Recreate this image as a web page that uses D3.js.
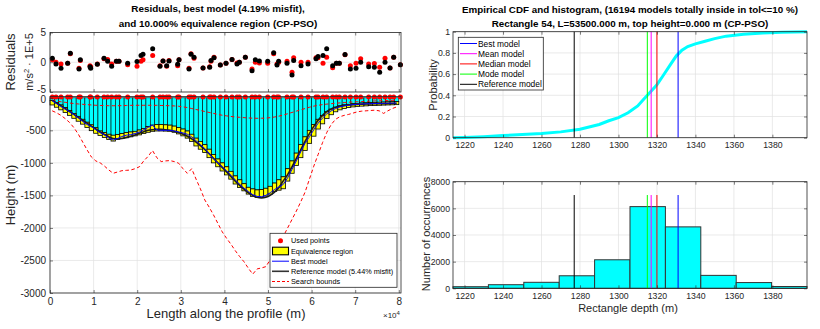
<!DOCTYPE html>
<html><head><meta charset="utf-8">
<script src="https://cdn.jsdelivr.net/npm/d3@7"></script>
<style>
body{margin:0;background:#fff}
text{font-family:"Liberation Sans",Arial,Helvetica,sans-serif}
</style></head>
<body><svg id="c" width="820" height="329"></svg>
<script>
// ---------------- DATA ----------------
const rectWidth = 1000;            // m
const rectCenters = d3.range(500, 80000, 1000);
const eqTop = [40,75,110,150,195,240,285,330,375,415,460,510,535,560,575,565,550,535,525,515,495,470,440,420,412,410,415,420,435,455,480,510,560,620,670,720,790,870,940,1000,1060,1130,1200,1260,1320,1375,1400,1415,1410,1390,1360,1310,1260,1214,1090,970,850,720,600,500,410,330,270,215,175,145,125,110,100,90,85,80,76,72,70,68,65,62,60,58];
const eqBot = [110,145,185,225,270,315,360,405,455,505,545,580,610,640,665,640,625,615,600,585,570,550,530,515,510,510,512,515,530,555,585,620,670,740,790,840,920,1000,1060,1125,1185,1250,1325,1380,1430,1480,1515,1530,1530,1510,1480,1440,1420,1398,1280,1160,1040,920,810,700,590,480,400,320,260,215,185,165,150,140,132,128,124,120,118,115,112,110,108,105];
const bestDepth = [45,90,135,175,215,260,310,365,410,445,490,535,570,620,650,625,595,575,565,550,525,490,455,420,495,500,500,500,510,525,540,560,600,660,720,780,860,940,1000,1060,1120,1190,1260,1330,1390,1440,1490,1515,1520,1500,1460,1410,1370,1331,1230,1100,970,830,700,600,490,390,310,245,200,165,140,125,115,105,100,95,92,90,88,86,84,82,80,78];
const refDepth = [40,80,120,165,210,255,300,345,390,435,480,525,565,600,625,630,625,610,590,570,545,520,500,490,485,485,490,500,515,535,560,590,630,680,735,795,860,930,1000,1070,1140,1210,1280,1345,1405,1460,1500,1530,1540,1530,1500,1450,1380,1277,1180,1060,930,800,670,550,440,345,270,210,170,145,128,117,110,105,101,98,96,94,92,91,90,89,88,88];
const boundTop = [40,50,60,70,80,88,95,100,105,110,115,118,120,122,122,122,120,118,116,115,115,115,115,115,116,118,120,122,125,130,140,150,165,180,195,210,225,240,255,268,278,287,294,300,305,310,313,315,314,312,305,295,282,265,245,225,205,185,165,145,128,115,105,97,90,84,78,73,68,64,60,57,54,51,48,46,44,42,40,38];
const boundBot = [200,230,270,320,380,460,560,680,800,910,970,1000,1050,1110,1160,1140,1120,1115,1110,1090,1060,970,900,810,920,980,970,965,980,1005,1090,1160,1090,1250,1400,1570,1680,1800,1930,2060,2160,2250,2350,2440,2520,2620,2710,2630,2615,2595,2490,2350,2220,2130,2000,1870,1740,1600,1450,1250,1050,870,690,530,410,330,290,270,255,235,215,205,200,195,190,200,240,200,165,140];

const usedX = [535,1376,2523,4052,4664,6651,6957,9174,9327,10856,12385,13226,14144,15214,15826,17813,19954,20872,21330,23548,25229,25917,26758,27294,29281,29587,31881,32339,33028,35092,36621,36927,37615,39067,40367,41743,42890,43425,44801,46330,47095,48012,49924,51300,52064,52446,54358,55505,55887,57569,59174,61009,61468,62615,63456,64832,65673,66361,67661,68884,70183,71254,73089,74388,75612,76835,77982,78823,80352];
const resBest = [0.40,0,-0.28,-0.17,1.42,-1.02,0.28,-0.57,-0.74,-0.28,0.57,0.45,-0.28,0.17,0.17,-0.40,-0.68,0.17,0.40,1.14,-0.57,0.23,-0.68,0.28,-0.57,0.40,-1.02,1.42,0.68,-0.97,-0.74,0.17,0.85,-0.45,-0.17,0.45,-0.11,0,0.85,-1.14,0,-0.11,-0.17,1.42,-0.28,0,0.17,-1.70,0.74,0,0,0.74,0.74,-0.17,0.85,-0.91,-0.17,-0.17,1.25,-0.57,-0.17,0.57,-0.28,-0.23,-0.85,0.68,-0.97,0.85,-0.40];
const resRef = [0.68,-0.28,-1.02,-0.17,1.53,-1.14,0.40,-0.74,-1.0,-0.34,0.68,0.17,-0.68,0.17,0.17,-0.17,0.11,1.14,1.36,2.27,-0.68,0.23,-0.57,0.23,-0.34,0.40,-1.14,1.36,0.85,-0.97,-0.85,0.28,0.74,-0.45,-0.17,0.45,-0.28,0,0.85,-1.42,0.40,0.23,0.17,1.59,-0.45,0.17,-0.17,-2.16,0.28,-0.57,-0.28,0.57,0.97,1.14,2.27,-0.57,-0.17,-0.17,1.31,-1.14,-1.02,0,-0.74,-0.85,-1.70,0,-0.97,0.85,-0.40];

const mainXTicks = [0,10000,20000,30000,40000,50000,60000,70000,80000];
const mainYTicks = [-3000,-2500,-2000,-1500,-1000,-500,0];
const resYTicks = [-5,0,5];

const cdfDepth = [1214,1220,1230,1240,1250,1260,1270,1280,1290,1295,1300,1305,1310,1313,1316,1320,1323,1327,1330,1333,1336,1340,1345,1350,1356,1365,1375,1385,1398];
const cdfProb  = [0,0.003,0.01,0.02,0.03,0.04,0.055,0.08,0.125,0.16,0.19,0.235,0.3,0.36,0.42,0.5,0.58,0.69,0.77,0.825,0.86,0.885,0.91,0.935,0.958,0.975,0.988,0.995,1];
const histEdges = [1214,1232.4,1250.8,1269.2,1287.6,1306,1324.4,1342.8,1361.2,1379.6,1398];
const histCounts = [120,270,450,940,2140,6130,4610,970,430,134];
const modelNames = ["Best model","Mean model","Median model","Mode model","Reference model"];
const modelDepths = [1331,1317,1320,1315,1277];
const depthTicks = [1220,1240,1260,1280,1300,1320,1340,1360,1380];
const probTicks = [0,0.2,0.4,0.6,0.8,1];
const countTicks = [0,2000,4000,6000,8000];
const histLineTop = 7000;

// ---------------- STYLE ----------------
const modelColors = ["#0000ff","#ff00ff","#ff0000","#00ff00","#000000"];
const axisCol = "#262626", gridCol = "#e1e1e1";

const svg = d3.select("#c");

function styleAxis(g, fs){
  g.selectAll(".domain").remove();
  g.selectAll("line").attr("stroke",axisCol).attr("stroke-width",0.6);
  g.selectAll("text").attr("fill",axisCol).style("font-size",fs||"10px").attr("font-family","Liberation Sans, Arial, sans-serif");
  return g;
}
function box(x0,y0,x1,y1){
  svg.append("rect").attr("x",x0).attr("y",y0).attr("width",x1-x0).attr("height",y1-y0)
    .attr("fill","none").attr("stroke",axisCol).attr("stroke-width",0.8);
}
const fmt = d => String(d);

// ---------------- LEFT PANELS ----------------
const L = {x0:50, x1:401};
const xL = d3.scaleLinear().domain([0,80500]).range([L.x0,L.x1]);
const yRes = d3.scaleLinear().domain([-5,5]).range([92,32.5]);
const yMain = d3.scaleLinear().domain([-3000,20]).range([293,96.5]);

// residual grid
const gRes = svg.append("g");
gRes.selectAll("line.v").data(mainXTicks).join("line")
  .attr("x1",d=>xL(d)).attr("x2",d=>xL(d)).attr("y1",yRes(5)).attr("y2",yRes(-5)).attr("stroke",gridCol).attr("stroke-width",0.7);
gRes.selectAll("line.h").data(resYTicks).join("line")
  .attr("x1",L.x0).attr("x2",L.x1).attr("y1",d=>yRes(d)).attr("y2",d=>yRes(d)).attr("stroke",gridCol).attr("stroke-width",0.7);
// main grid
const gMain = svg.append("g");
gMain.selectAll("line.v").data(mainXTicks).join("line")
  .attr("x1",d=>xL(d)).attr("x2",d=>xL(d)).attr("y1",yMain(20)).attr("y2",yMain(-3000)).attr("stroke",gridCol).attr("stroke-width",0.7);
gMain.selectAll("line.h").data(mainYTicks).join("line")
  .attr("x1",L.x0).attr("x2",L.x1).attr("y1",d=>yMain(d)).attr("y2",d=>yMain(d)).attr("stroke",gridCol).attr("stroke-width",0.7);

// residual dots
svg.append("g").selectAll("circle").data(usedX).join("circle")
  .attr("cx",d=>xL(d)).attr("cy",(d,i)=>yRes(resBest[i])).attr("r",2.5).attr("fill","#ff0000");
svg.append("g").selectAll("circle").data(usedX).join("circle")
  .attr("cx",d=>xL(d)).attr("cy",(d,i)=>yRes(resRef[i])).attr("r",2.5).attr("fill","#000000");

// bars
const gBars = svg.append("g");
rectCenters.forEach((c,i)=>{
  const xa = xL(c-rectWidth/2), xb = xL(c+rectWidth/2);
  gBars.append("rect").attr("x",xa).attr("width",xb-xa)
    .attr("y",yMain(0)).attr("height",yMain(-eqTop[i])-yMain(0))
    .attr("fill","#00ffff").attr("stroke","#000").attr("stroke-width",0.6);
});
rectCenters.forEach((c,i)=>{
  const xa = xL(c-rectWidth/2), xb = xL(c+rectWidth/2);
  gBars.append("rect").attr("x",xa).attr("width",xb-xa)
    .attr("y",yMain(-eqTop[i])).attr("height",yMain(-eqBot[i])-yMain(-eqTop[i]))
    .attr("fill","#ffff00").attr("stroke","#000").attr("stroke-width",0.8);
});

// search bounds
const lineDepth = arr => d3.line().x((d,i)=>xL(rectCenters[i])).y(d=>yMain(-d))(arr);
[boundTop,boundBot].forEach(b=>{
  svg.append("path").attr("d",lineDepth(b)).attr("fill","none").attr("stroke","#ff0000")
    .attr("stroke-width",1).attr("stroke-dasharray","3.5,2.5");
});
// reference model
svg.append("path").attr("d",d3.line().curve(d3.curveMonotoneX).x((d,i)=>xL(rectCenters[i])).y(d=>yMain(-d))(refDepth))
  .attr("fill","none").attr("stroke","#1a1a1a").attr("stroke-width",1.6);
// best model
svg.append("path").attr("d",lineDepth(bestDepth)).attr("fill","none").attr("stroke","#0000ff").attr("stroke-width",1);

// used points at surface
svg.append("g").selectAll("circle").data(usedX).join("circle")
  .attr("cx",d=>xL(d)).attr("cy",yMain(0)-0.8).attr("r",2.5).attr("fill","#ff0000");

// axes left
const axRes = styleAxis(svg.append("g").attr("transform",`translate(${L.x0},0)`)
  .call(d3.axisLeft(yRes).tickValues(resYTicks).tickFormat(fmt).tickSize(-3).tickPadding(4)));
axRes.selectAll(".tick").filter(d=>d===-5).select("text").attr("y",-2.5);
styleAxis(svg.append("g").attr("transform",`translate(0,${yRes(-5)})`)
  .call(d3.axisBottom(xL).tickValues(mainXTicks).tickFormat("").tickSize(-3)));
styleAxis(svg.append("g").attr("transform",`translate(0,${yRes(5)})`)
  .call(d3.axisTop(xL).tickValues(mainXTicks).tickFormat("").tickSize(-3)));
box(L.x0,yRes(5),L.x1,yRes(-5));

const axMainY = styleAxis(svg.append("g").attr("transform",`translate(${L.x0},0)`)
  .call(d3.axisLeft(yMain).tickValues(mainYTicks).tickFormat(fmt).tickSize(-3).tickPadding(4)));
axMainY.selectAll(".tick").filter(d=>d===0).select("text").attr("y",1.5);
styleAxis(svg.append("g").attr("transform",`translate(0,${yMain(-3000)})`)
  .call(d3.axisBottom(xL).tickValues(mainXTicks).tickFormat(d=>String(d/10000)).tickSize(-3).tickPadding(5)));
box(L.x0,yMain(20),L.x1,yMain(-3000));

// left labels
svg.append("text").attr("x",218).attr("y",11.5).attr("text-anchor","middle").attr("font-weight","bold")
  .style("font-size","9.9px").attr("fill","#000").text("Residuals, best model (4.19% misfit),");
svg.append("text").attr("x",218).attr("y",26.5).attr("text-anchor","middle").attr("font-weight","bold")
  .style("font-size","9.9px").attr("fill","#000").text("and 10.000% equivalence region (CP-PSO)");
svg.append("text").attr("transform","translate(15,62) rotate(-90)").attr("text-anchor","middle")
  .style("font-size","13px").attr("fill",axisCol).text("Residuals");
const ul = svg.append("text").attr("transform","translate(33,62) rotate(-90)").attr("text-anchor","middle")
  .style("font-size","11px").attr("fill",axisCol);
ul.append("tspan").text("m/s");
ul.append("tspan").attr("dy",-4).style("font-size","7.5px").text("2");
ul.append("tspan").attr("dy",4).text(" \u00B7 1E+5");
svg.append("text").attr("transform","translate(15,195) rotate(-90)").attr("text-anchor","middle")
  .style("font-size","13px").attr("fill",axisCol).text("Height (m)");
svg.append("text").attr("x",226).attr("y",318).attr("text-anchor","middle")
  .style("font-size","13px").attr("fill",axisCol).text("Length along the profile (m)");
const ex = svg.append("text").attr("x",383).attr("y",318).style("font-size","8px").attr("fill",axisCol);
ex.append("tspan").text("\u00D710");
ex.append("tspan").attr("dy",-3).style("font-size","6px").text("4");

// left legend
const lg = svg.append("g");
lg.append("rect").attr("x",270).attr("y",233.3).attr("width",127).attr("height",54)
  .attr("fill","#fff").attr("stroke",axisCol).attr("stroke-width",0.8);
const lgY = [240.7,251,261.2,271.3,281.5];
const lgText = ["Used points","Equivalence region","Best model","Reference model (5.44% misfit)","Search bounds"];
lg.append("circle").attr("cx",280.5).attr("cy",lgY[0]).attr("r",2.5).attr("fill","#ff0000");
lg.append("rect").attr("x",272.5).attr("y",lgY[1]-3.8).attr("width",16).attr("height",7.6).attr("fill","#ffff00").attr("stroke","#000").attr("stroke-width",1.1);
lg.append("line").attr("x1",272).attr("x2",289).attr("y1",lgY[2]).attr("y2",lgY[2]).attr("stroke","#0000ff").attr("stroke-width",1);
lg.append("line").attr("x1",272).attr("x2",289).attr("y1",lgY[3]).attr("y2",lgY[3]).attr("stroke","#333").attr("stroke-width",1.6);
lg.append("line").attr("x1",272).attr("x2",289).attr("y1",lgY[4]).attr("y2",lgY[4]).attr("stroke","#ff0000").attr("stroke-width",1).attr("stroke-dasharray","3,2");
lgText.forEach((t,i)=>lg.append("text").attr("x",291).attr("y",lgY[i]+2.6).style("font-size","7.3px").attr("fill","#000").text(t));

// ---------------- RIGHT PANELS ----------------
const R = {x0:453, x1:807};
const xR = d3.scaleLinear().domain([1214,1398]).range([R.x0,R.x1]);
const yCdf = d3.scaleLinear().domain([0,1]).range([137.7,31.7]);
const yHist = d3.scaleLinear().domain([0,8000]).range([288.3,181.7]);

function grid(yS, yTicks){
  const g = svg.append("g");
  g.selectAll("line.v").data(depthTicks).join("line")
    .attr("x1",d=>xR(d)).attr("x2",d=>xR(d)).attr("y1",yS.range()[0]).attr("y2",yS.range()[1]).attr("stroke",gridCol).attr("stroke-width",0.7);
  g.selectAll("line.h").data(yTicks).join("line")
    .attr("x1",R.x0).attr("x2",R.x1).attr("y1",d=>yS(d)).attr("y2",d=>yS(d)).attr("stroke",gridCol).attr("stroke-width",0.7);
}
grid(yCdf, probTicks);
grid(yHist, countTicks);

// CDF
svg.append("path").attr("d",d3.line().x(d=>xR(d)).y((d,i)=>yCdf(cdfProb[i]))(cdfDepth))
  .attr("fill","none").attr("stroke","#00ffff").attr("stroke-width",3);
modelDepths.forEach((d,i)=>{
  svg.append("line").attr("x1",xR(d)).attr("x2",xR(d)).attr("y1",yCdf(0)).attr("y2",yCdf(1))
    .attr("stroke",modelColors[i]).attr("stroke-width",1);
});
// histogram
svg.append("g").selectAll("rect").data(histCounts).join("rect")
  .attr("x",(d,i)=>xR(histEdges[i])).attr("width",(d,i)=>xR(histEdges[i+1])-xR(histEdges[i]))
  .attr("y",d=>yHist(d)).attr("height",d=>yHist(0)-yHist(d))
  .attr("fill","#00ffff").attr("stroke","#333").attr("stroke-width",1);
modelDepths.forEach((d,i)=>{
  svg.append("line").attr("x1",xR(d)).attr("x2",xR(d)).attr("y1",yHist(0)).attr("y2",yHist(histLineTop))
    .attr("stroke",modelColors[i]).attr("stroke-width",1);
});

// right axes
const rFs = "8.7px";
function rAxes(yS, yTicks, yFmt){
  const b = yS.range()[0], t = yS.range()[1];
  styleAxis(svg.append("g").attr("transform",`translate(${R.x0},0)`)
    .call(d3.axisLeft(yS).tickValues(yTicks).tickFormat(yFmt).tickSize(-3).tickPadding(3)), rFs);
  styleAxis(svg.append("g").attr("transform",`translate(${R.x1},0)`)
    .call(d3.axisRight(yS).tickValues(yTicks).tickFormat("").tickSize(-3)), rFs);
  styleAxis(svg.append("g").attr("transform",`translate(0,${b})`)
    .call(d3.axisBottom(xR).tickValues(depthTicks).tickFormat(fmt).tickSize(-3).tickPadding(4.5)), rFs);
  styleAxis(svg.append("g").attr("transform",`translate(0,${t})`)
    .call(d3.axisTop(xR).tickValues(depthTicks).tickFormat("").tickSize(-3)), rFs);
  box(R.x0,t,R.x1,b);
}
rAxes(yCdf, probTicks, fmt);
rAxes(yHist, countTicks, fmt);

// right titles and labels
svg.append("text").attr("x",630).attr("y",13).attr("text-anchor","middle").attr("font-weight","bold")
  .style("font-size","9.8px").attr("fill","#000").text("Empirical CDF and histogram, (16194 models totally inside in tol<=10 %)");
svg.append("text").attr("x",630).attr("y",27.3).attr("text-anchor","middle").attr("font-weight","bold")
  .style("font-size","9.8px").attr("fill","#000").text("Rectangle 54, L=53500.000 m, top height=0.000 m (CP-PSO)");
svg.append("text").attr("transform","translate(437,85) rotate(-90)").attr("text-anchor","middle")
  .style("font-size","11px").attr("fill",axisCol).text("Probability");
svg.append("text").attr("transform","translate(430,234) rotate(-90)").attr("text-anchor","middle")
  .style("font-size","11px").attr("fill",axisCol).text("Number of occurrences");
svg.append("text").attr("x",628).attr("y",311.5).attr("text-anchor","middle")
  .style("font-size","11px").attr("fill",axisCol).text("Rectangle depth (m)");

// right legend
const rg = svg.append("g");
rg.append("rect").attr("x",458.3).attr("y",37.3).attr("width",85).attr("height",52.7)
  .attr("fill","#fff").attr("stroke",axisCol).attr("stroke-width",0.8);
modelNames.forEach((n,i)=>{
  const y = 43.5 + i*10.2;
  rg.append("line").attr("x1",460).attr("x2",477).attr("y1",y).attr("y2",y).attr("stroke",modelColors[i]).attr("stroke-width",1);
  rg.append("text").attr("x",478).attr("y",y+3).style("font-size","8.4px").attr("fill","#000").text(n);
});
</script></body></html>
